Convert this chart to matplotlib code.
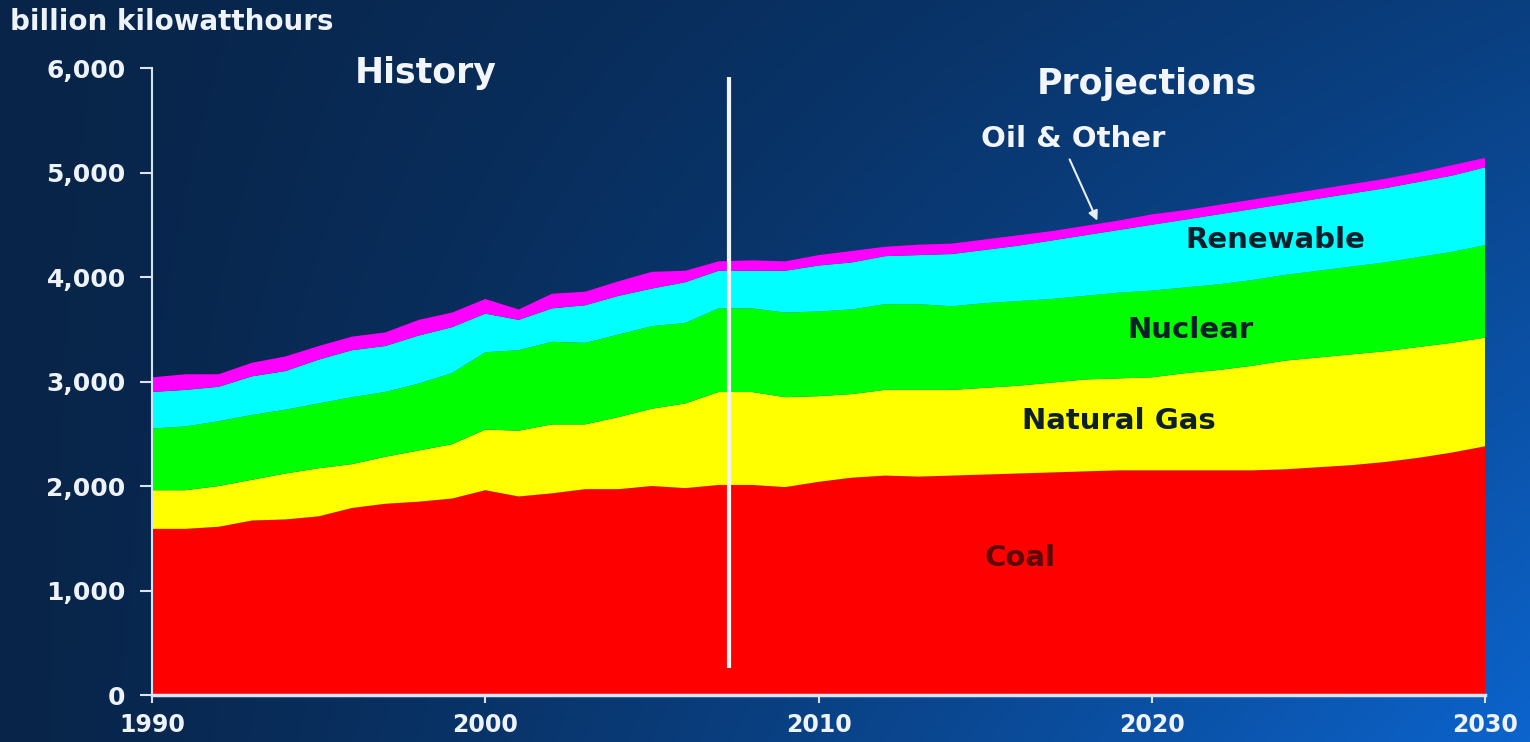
import numpy as np
import matplotlib
matplotlib.use("Agg")
import matplotlib.pyplot as plt

# net electricity generation by fuel, billion kWh
years = list(range(1990, 2031))
coal = [1590, 1590, 1610, 1670, 1680, 1710, 1790, 1830, 1850, 1880,
        1960, 1900, 1930, 1970, 1970, 2000, 1980, 2010, 2010, 1990,
        2040, 2080, 2100, 2090, 2100, 2110, 2120, 2130, 2140, 2150,
        2150, 2150, 2150, 2150, 2160, 2180, 2200, 2230, 2270, 2320,
        2380]
natural_gas = [370, 370, 390, 390, 440, 460, 420, 450, 490, 520,
               580, 630, 660, 620, 690, 740, 810, 890, 890, 860,
               820, 800, 820, 830, 820, 830, 840, 860, 880, 880,
               890, 930, 960, 1000, 1040, 1050, 1060, 1060, 1060, 1050,
               1040]
nuclear = [590, 610, 620, 620, 610, 620, 640, 620, 640, 680,
           740, 770, 790, 780, 790, 790, 770, 800, 800, 810,
           810, 810, 820, 820, 800, 810, 810, 800, 800, 820,
           830, 820, 820, 820, 820, 830, 840, 850, 860, 870,
           885]
renewable = [350, 350, 330, 370, 370, 420, 450, 440, 460, 440,
             370, 290, 320, 360, 370, 360, 390, 360, 360, 400,
             440, 450, 460, 470, 500, 510, 530, 560, 580, 600,
             630, 650, 670, 680, 680, 690, 700, 710, 720, 730,
             745]
oil_other = [140, 150, 120, 130, 140, 130, 130, 130, 150, 140,
             140, 100, 140, 130, 140, 160, 110, 90, 100, 90,
             100, 110, 90, 100, 100, 100, 100, 90, 90, 90,
             100, 90, 90, 90, 90, 90, 90, 90, 90, 100,
             90]

layer_colors = ["#ff0000", "#ffff00", "#00ff00", "#00ffff", "#ff00ff"]
xticks = [1990, 2000, 2010, 2020, 2030]
yticks = [0, 1000, 2000, 3000, 4000, 5000, 6000]
ytick_labels = ["0", "1,000", "2,000", "3,000", "4,000", "5,000", "6,000"]
split_year = 2007.3

plt.rcParams["font.family"] = "DejaVu Sans"
plt.rcParams["font.weight"] = "bold"

fig = plt.figure(figsize=(15.3, 7.42), dpi=100)

# diagonal navy-to-blue backdrop
bg = fig.add_axes([0, 0, 1, 1], zorder=-5)
h, w = 200, 400
u = np.linspace(0, 1, w)[None, :]
v = np.linspace(0, 1, h)[:, None]
f = (u ** 1.2) * (0.42 + 0.58 * v)
dark = np.array([8, 36, 72]) / 255
bright = np.array([12, 100, 205]) / 255
grad = dark[None, None, :] * (1 - f[..., None]) + bright[None, None, :] * f[..., None]
bg.imshow(grad, extent=[0, 1, 0, 1], aspect="auto", origin="upper")
bg.axis("off")

ax = fig.add_axes([0.0994, 0.0633, 0.8712, 0.8450])
ax.set_facecolor("none")
ax.stackplot(years, coal, natural_gas, nuclear, renewable, oil_other,
             colors=layer_colors, linewidth=0)

ax.set_xlim(1990, 2030)
ax.set_ylim(0, 6000)
ax.set_xticks(xticks)
ax.set_xticklabels([str(t) for t in xticks])
ax.set_yticks(yticks)
ax.set_yticklabels(ytick_labels)

axis_col = "#d8e4f4"
for side in ("top", "right"):
    ax.spines[side].set_visible(False)
ax.spines["left"].set_color(axis_col)
ax.spines["left"].set_linewidth(1.5)
ax.spines["bottom"].set_color(axis_col)
ax.spines["bottom"].set_linewidth(2.5)
ax.tick_params(axis="y", colors=axis_col, length=9, width=1.5, pad=10,
               labelsize=18, labelcolor="#eef3fa")
ax.tick_params(axis="x", colors=axis_col, length=6, width=1.5, pad=7,
               labelsize=17, labelcolor="#eef3fa")

# history / projections divider
ax.plot([split_year, split_year], [260, 5910], color="#f4f4f4", lw=3,
        solid_capstyle="butt", zorder=5)

fig.text(0.0065, 0.970, "billion kilowatthours", color="#eef3fa",
         fontsize=20, ha="left", va="center")
ax.text(1998.2, 5950, "History", color="#f2f5fa", fontsize=25,
        ha="center", va="center")
ax.text(2019.85, 5850, "Projections", color="#f2f5fa", fontsize=25,
        ha="center", va="center")
ax.text(2017.65, 5320, "Oil & Other", color="#f2f5fa", fontsize=21,
        ha="center", va="center")
ax.annotate("", xy=(2018.4, 4515), xytext=(2017.5, 5150),
            arrowprops=dict(arrowstyle="-|>", color="#e8eef8", lw=1.5,
                            mutation_scale=14))

label_col = "#0e1f2c"
ax.text(2023.7, 4355, "Renewable", color=label_col, fontsize=21,
        ha="center", va="center")
ax.text(2021.15, 3495, "Nuclear", color=label_col, fontsize=21,
        ha="center", va="center")
ax.text(2019.0, 2620, "Natural Gas", color=label_col, fontsize=21,
        ha="center", va="center")
ax.text(2016.05, 1310, "Coal", color="#5c0808", fontsize=21,
        ha="center", va="center")

fig.savefig("out.png", dpi=100)
